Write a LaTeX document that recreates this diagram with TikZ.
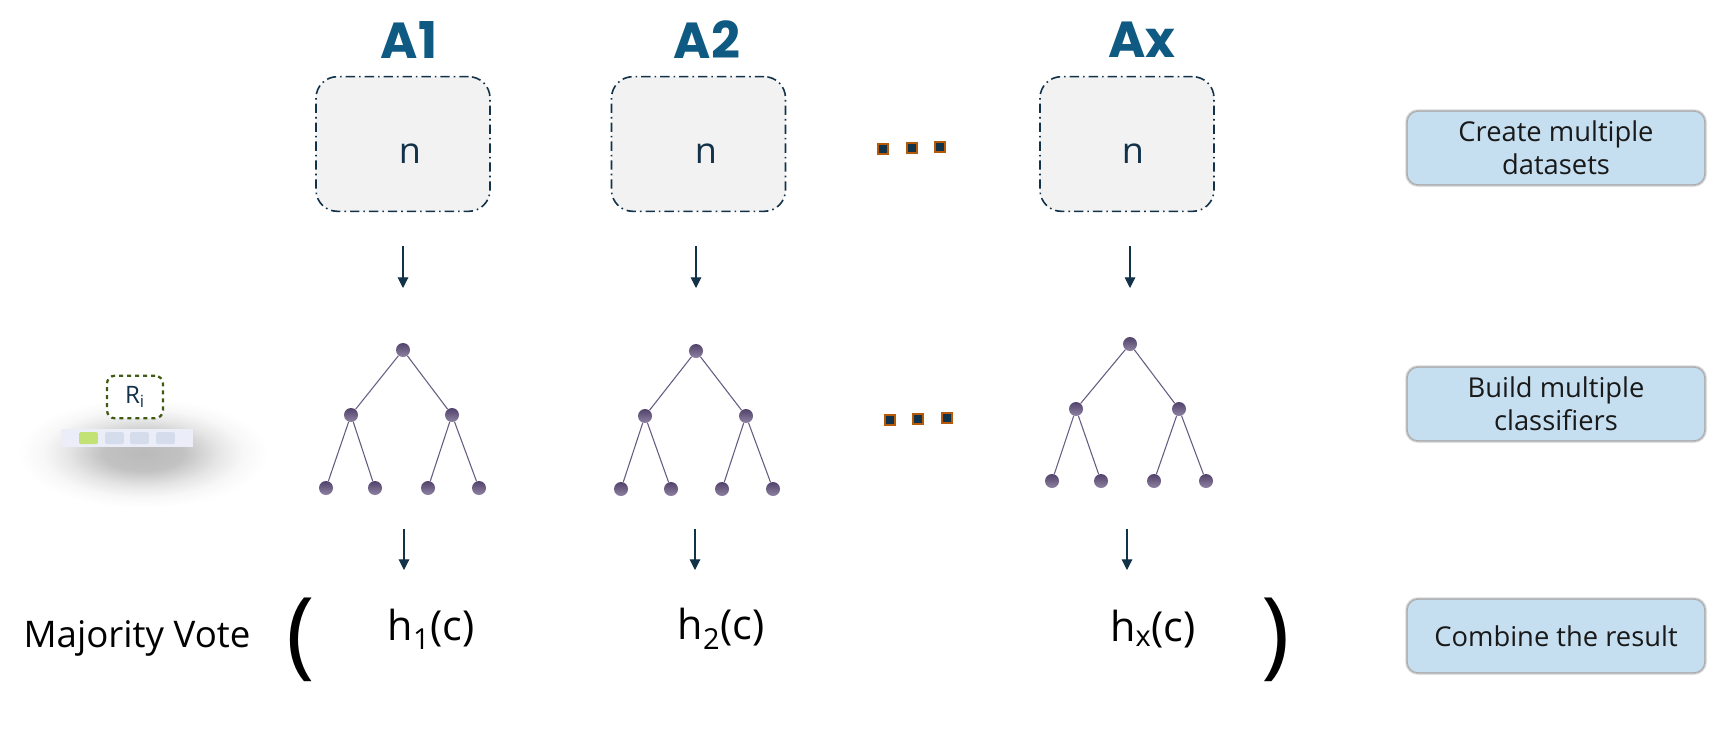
\documentclass[tikz,border=0pt]{standalone}
\usepackage{fontspec}
\setmainfont{Open Sans}
\newfontfamily\titlefont{Poppins}
\usetikzlibrary{arrows.meta}
\definecolor{navy}{HTML}{12324A}
\definecolor{titleblue}{HTML}{0F5A82}
\definecolor{boxfill}{HTML}{F2F2F2}
\definecolor{stepblue}{HTML}{C5DFF1}
\definecolor{treeedge}{HTML}{675A80}
\definecolor{treenode}{HTML}{5F4E7C}
\definecolor{dotedge}{HTML}{B45A0A}
\definecolor{ribord}{HTML}{3F5A12}
\definecolor{cellgreen}{HTML}{C3E276}
\definecolor{cellblue}{HTML}{D5DDEC}
\definecolor{strip}{HTML}{EBEEF8}
\pgfdeclareradialshading{softshadow}{\pgfpoint{0bp}{0bp}}{color(0bp)=(black!27); color(8bp)=(black!24); color(15bp)=(black!10); color(20bp)=(black!3); color(25bp)=(white); color(50bp)=(white)}
\tikzset{
  x=0.75pt,y=-0.75pt,
  titlelabel/.style={font=\titlefont\bfseries\fontsize{38}{38}\selectfont,text=titleblue,inner sep=0pt},
  databox/.style={draw=navy,fill=boxfill,line width=1.2pt,rounded corners=16pt,dash pattern=on 7pt off 3pt on 1.2pt off 3pt,minimum width=130.5pt,minimum height=101pt,inner sep=0pt},
  nlabel/.style={font=\fontsize{27}{27}\selectfont,text=navy,inner sep=0pt},
  flowarrow/.style={draw=navy,line width=0.8pt,-{Triangle[length=8pt,width=8pt]}},
  treenodest/.style={circle,minimum size=10.5pt,inner sep=0pt,top color=treenode!85!black,bottom color=treenode!70!white,draw=none},
  treelink/.style={draw=treeedge,line width=0.8pt},
  ellip/.style={rectangle,draw=dotedge,fill=navy,line width=1.5pt,minimum size=7pt,inner sep=0pt},
  steplabel/.style={rounded corners=8pt,fill=stepblue,draw=black!35,line width=0.6pt,minimum width=223pt,minimum height=55pt,inner sep=0pt,align=center,font=\fontsize{20.5}{25}\selectfont,text=black!90,
    preaction={draw=black,opacity=0.10,line width=3.5pt},
    preaction={draw=black,opacity=0.16,line width=2pt}},
  hlabel/.style={font=\fontsize{31}{31}\selectfont,text=black,inner sep=0pt},
  paren/.style={font=\fontsize{72}{72}\selectfont,text=black,inner sep=0pt},
  rnode/.style={draw=ribord,fill=white,line width=1.7pt,rounded corners=6pt,dashed,minimum width=42pt,minimum height=32pt,inner sep=0pt,font=\fontsize{18}{18}\selectfont,text=navy},
  cellst/.style={rounded corners=1pt,minimum width=14pt,minimum height=9pt,inner sep=0pt},
}
\begin{document}
\begin{tikzpicture}
\useasboundingbox (0,0) rectangle (1718,739);
% shadow of the strip
\shade[shading=softshadow] (143,453) ellipse [x radius=125,y radius=55];

% titles
\node[titlelabel] (t1) at (409,40) {A1};
\node[titlelabel] (t2) at (707,40) {A2};
\node[titlelabel] (t3) at (1142,40) {Ax};

% datasets
\node[databox] (d1) at (403,144) {};
\node[databox] (d2) at (698.5,144) {};
\node[databox] (d3) at (1127,144) {};
\node[nlabel] (n1) at (410,154) {n};
\node[nlabel] (n2) at (706,154) {n};
\node[nlabel] (n3) at (1133,154) {n};

% ellipses
\node[ellip] (e1) at (883,149) {};
\node[ellip] (e2) at (912,148) {};
\node[ellip] (e3) at (940,147) {};
\node[ellip] (e4) at (890,420) {};
\node[ellip] (e5) at (918,419) {};
\node[ellip] (e6) at (947,418) {};

% arrow anchors
\coordinate (a1s) at (403,246); \coordinate (a1e) at (403,288);
\coordinate (a2s) at (696,246); \coordinate (a2e) at (696,288);
\coordinate (a3s) at (1130,246); \coordinate (a3e) at (1130,288);
\coordinate (b1s) at (404,529); \coordinate (b1e) at (404,570);
\coordinate (b2s) at (695,529); \coordinate (b2e) at (695,570);
\coordinate (b3s) at (1127,529); \coordinate (b3e) at (1127,570);
\foreach \i in {a1,a2,a3,b1,b2,b3} \draw[flowarrow] (\i s) -- (\i e);

% tree 1
\node[treenodest] (ar) at (403,350) {};
\node[treenodest] (al) at (351,415) {};
\node[treenodest] (am) at (452,415) {};
\node[treenodest] (a1) at (326,488) {};
\node[treenodest] (a2) at (375,488) {};
\node[treenodest] (a3) at (428,488) {};
\node[treenodest] (a4) at (479,488) {};
% tree 2
\node[treenodest] (br) at (696,351) {};
\node[treenodest] (bl) at (645,416) {};
\node[treenodest] (bm) at (746,416) {};
\node[treenodest] (b1) at (621,489) {};
\node[treenodest] (b2) at (671,489) {};
\node[treenodest] (b3) at (722,489) {};
\node[treenodest] (b4) at (773,489) {};
% tree 3
\node[treenodest] (cr) at (1130,344) {};
\node[treenodest] (cl) at (1076,409) {};
\node[treenodest] (cm) at (1179,409) {};
\node[treenodest] (c1) at (1052,481) {};
\node[treenodest] (c2) at (1101,481) {};
\node[treenodest] (c3) at (1154,481) {};
\node[treenodest] (c4) at (1206,481) {};
\foreach \t in {a,b,c}{
  \draw[treelink] (\t r) -- (\t l);
  \draw[treelink] (\t r) -- (\t m);
  \draw[treelink] (\t l) -- (\t 1);
  \draw[treelink] (\t l) -- (\t 2);
  \draw[treelink] (\t m) -- (\t 3);
  \draw[treelink] (\t m) -- (\t 4);
}

% results
\node[font=\fontsize{27.5}{27.5}\selectfont,text=black,inner sep=0pt] (mv) at (137,638) {Majority Vote};
\node[paren] (po) at (301,640) {(};
\node[paren] (pc) at (1276,640) {)};
\node[hlabel] (h1) at (431,629) {h\textsubscript{1}(c)};
\node[hlabel] (h2) at (721,629) {h\textsubscript{2}(c)};
\node[hlabel] (h3) at (1153,629) {h\textsubscript{x}(c)};

% right side labels
\node[steplabel] (s1) at (1556,148) {Create multiple\\datasets};
\node[steplabel] (s2) at (1556,404) {Build multiple\\classifiers};
\node[steplabel] (s3) at (1556,636) {Combine the result};

% record
\node[rnode] (ri) at (135,397) {R\textsubscript{i}};
\node[fill=strip,minimum width=99pt,minimum height=13.5pt,inner sep=0pt] (st) at (127,438) {};
\node[cellst,fill=cellgreen] (c1x) at (88.5,438) {};
\node[cellst,fill=cellblue] (c2x) at (114.5,438) {};
\node[cellst,fill=cellblue] (c3x) at (139.5,438) {};
\node[cellst,fill=cellblue] (c4x) at (165.5,438) {};
\end{tikzpicture}
\end{document}
